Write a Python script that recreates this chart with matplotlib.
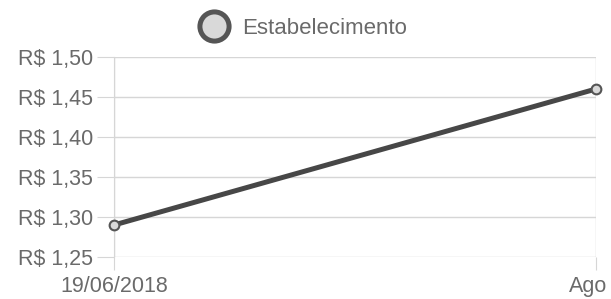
import matplotlib
matplotlib.use("Agg")
import matplotlib.pyplot as plt
from matplotlib.lines import Line2D

categories = ["19/06/2018", "Ago"]
values = [1.29, 1.46]
yticks = [1.25, 1.30, 1.35, 1.40, 1.45, 1.50]
ytick_labels = ["R$ 1,25", "R$ 1,30", "R$ 1,35", "R$ 1,40", "R$ 1,45", "R$ 1,50"]
series_name = "Estabelecimento"

plt.rcParams['font.family'] = ['Liberation Sans', 'DejaVu Sans']

fig = plt.figure(figsize=(6.11, 2.99), dpi=100)
ax = fig.add_axes([114/611, 1 - 257/299, (596-114)/611, (257-57)/299])

x = list(range(len(categories)))
ax.plot(x, values, color='#474747', lw=3.6, marker='o', markersize=7,
        markerfacecolor='#d9d9d9', markeredgecolor='#555555', markeredgewidth=1.5,
        solid_capstyle='round', zorder=3, clip_on=False)

ax.set_xlim(0, 1)
ax.set_ylim(1.25, 1.50)
ax.set_yticks(yticks)
ax.set_yticklabels(ytick_labels)
ax.set_xticks(x)
ax.set_xticklabels(categories)

ax.grid(axis='y', color='#d6d6d6', lw=1)
ax.grid(axis='x', color='#d6d6d6', lw=1)
for s in ['top', 'bottom', 'right']:
    ax.spines[s].set_visible(False)
ax.spines['left'].set_color('#d6d6d6')
ax.tick_params(axis='y', length=12, color='#d6d6d6', labelsize=15.5, labelcolor='#6a6a6a', pad=3)
ax.tick_params(axis='x', length=9, color='#d6d6d6', labelsize=15.5, labelcolor='#6a6a6a', pad=4.5)
xl = ax.get_xticklabels()
xl[-1].set_horizontalalignment('right')
from matplotlib.transforms import ScaledTranslation
xl[-1].set_transform(xl[-1].get_transform() + ScaledTranslation(11/100, 0, fig.dpi_scale_trans))

h = Line2D([], [], marker='o', linestyle='none', markersize=21,
           markerfacecolor='#d9d9d9', markeredgecolor='#555555', markeredgewidth=3.6)
fig.legend([h], [series_name], loc='center', bbox_to_anchor=(302/611, 1 - 28/299),
           frameon=False, fontsize=16, labelcolor='#6a6a6a', handletextpad=0.5,
           borderpad=0, handlelength=1.5)

fig.savefig("out.png", dpi=100)
